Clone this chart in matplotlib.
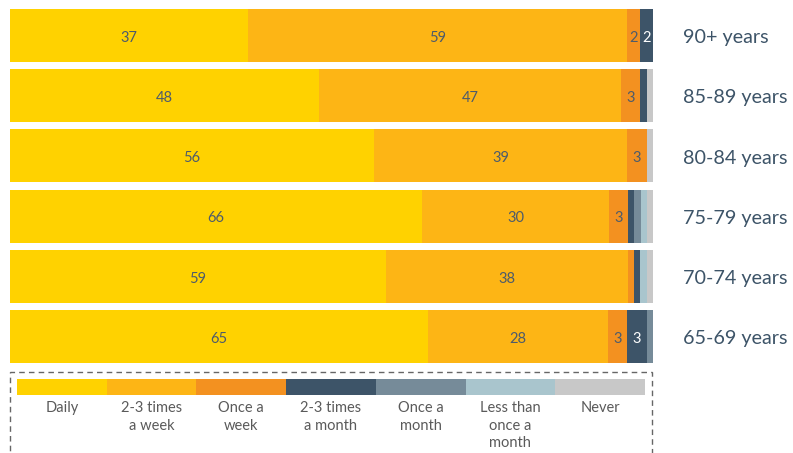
import numpy as np
import matplotlib.pyplot as plt
from matplotlib.patches import Rectangle

plt.rcParams['font.family'] = ['Lato', 'DejaVu Sans']

# --- Données ---
groupes = ['90+ years', '85-89 years', '80-84 years', '75-79 years', '70-74 years', '65-69 years']
categories = ['Daily', '2-3 times\na week', 'Once a\nweek', '2-3 times\na month',
              'Once a\nmonth', 'Less than\nonce a\nmonth', 'Never']
couleurs = ['#FFD200', '#FDB515', '#F39120', '#3D5468', '#768B99', '#A9C5CD', '#C8C8C8']

daily = [37, 48, 56, 66, 59, 65]
semaine_23 = [59, 47, 39, 30, 38, 28]
semaine_1 = [2, 3, 3, 3, 1, 3]
mois_23 = [2, 1, 0, 1, 1, 3]
mois_1 = [0, 0, 0, 1, 0, 1]
moins = [0, 0, 0, 1, 1, 0]
jamais = [0, 1, 1, 1, 1, 0]

valeurs = np.array([daily, semaine_23, semaine_1, mois_23, mois_1, moins, jamais], dtype=float)
totaux = valeurs.sum(axis=0)
parts = valeurs / totaux * 100  # chaque barre remplit toute la largeur

# --- Figure ---
fig = plt.figure(figsize=(7.93, 4.53), dpi=100)
ax = fig.add_axes([0.0126, 0.1905, 0.811, 0.798])

y = np.arange(len(groupes))[::-1]
gauche = np.zeros(len(groupes))
for k in range(len(categories)):
    ax.barh(y, parts[k], left=gauche, height=0.88, color=couleurs[k], linewidth=0)
    for i in range(len(groupes)):
        v = valeurs[k, i]
        if v >= 2:
            c = 'white' if k >= 3 else '#4D5B6B'
            ax.text(gauche[i] + parts[k, i] / 2, y[i] - 0.04, f'{int(v)}', ha='center',
                    va='center', fontsize=10.5, color=c)
    gauche += parts[k]

for i, g in enumerate(groupes):
    ax.text(104.6, y[i] - 0.04, g, ha='left', va='center', fontsize=14.2, color='#3D5468',
            clip_on=False)

ax.set_xlim(0, 100)
ax.set_ylim(-0.5, len(groupes) - 0.5)
ax.axis('off')

# --- Légende ---
leg = fig.add_axes([17 / 793, 1 - 395 / 453, 628 / 793, 16 / 453])
for k, nom in enumerate(categories):
    leg.barh(0, 1, left=k, height=1, color=couleurs[k], linewidth=0)
    leg.text(k + 0.5, -0.9, nom, ha='center', va='top', fontsize=10.5, color='#5A5A5A',
             linespacing=1.3, clip_on=False)
leg.set_xlim(0, len(categories))
leg.set_ylim(-0.5, 0.5)
leg.axis('off')

cadre = Rectangle((10 / 793, -0.01), 642 / 793, 1 - 372 / 453 + 0.01, transform=fig.transFigure,
                  fill=False, edgecolor='#666666', linestyle=(0, (4, 3)), linewidth=1)
fig.patches.append(cadre)

plt.savefig('out.png', dpi=100)
